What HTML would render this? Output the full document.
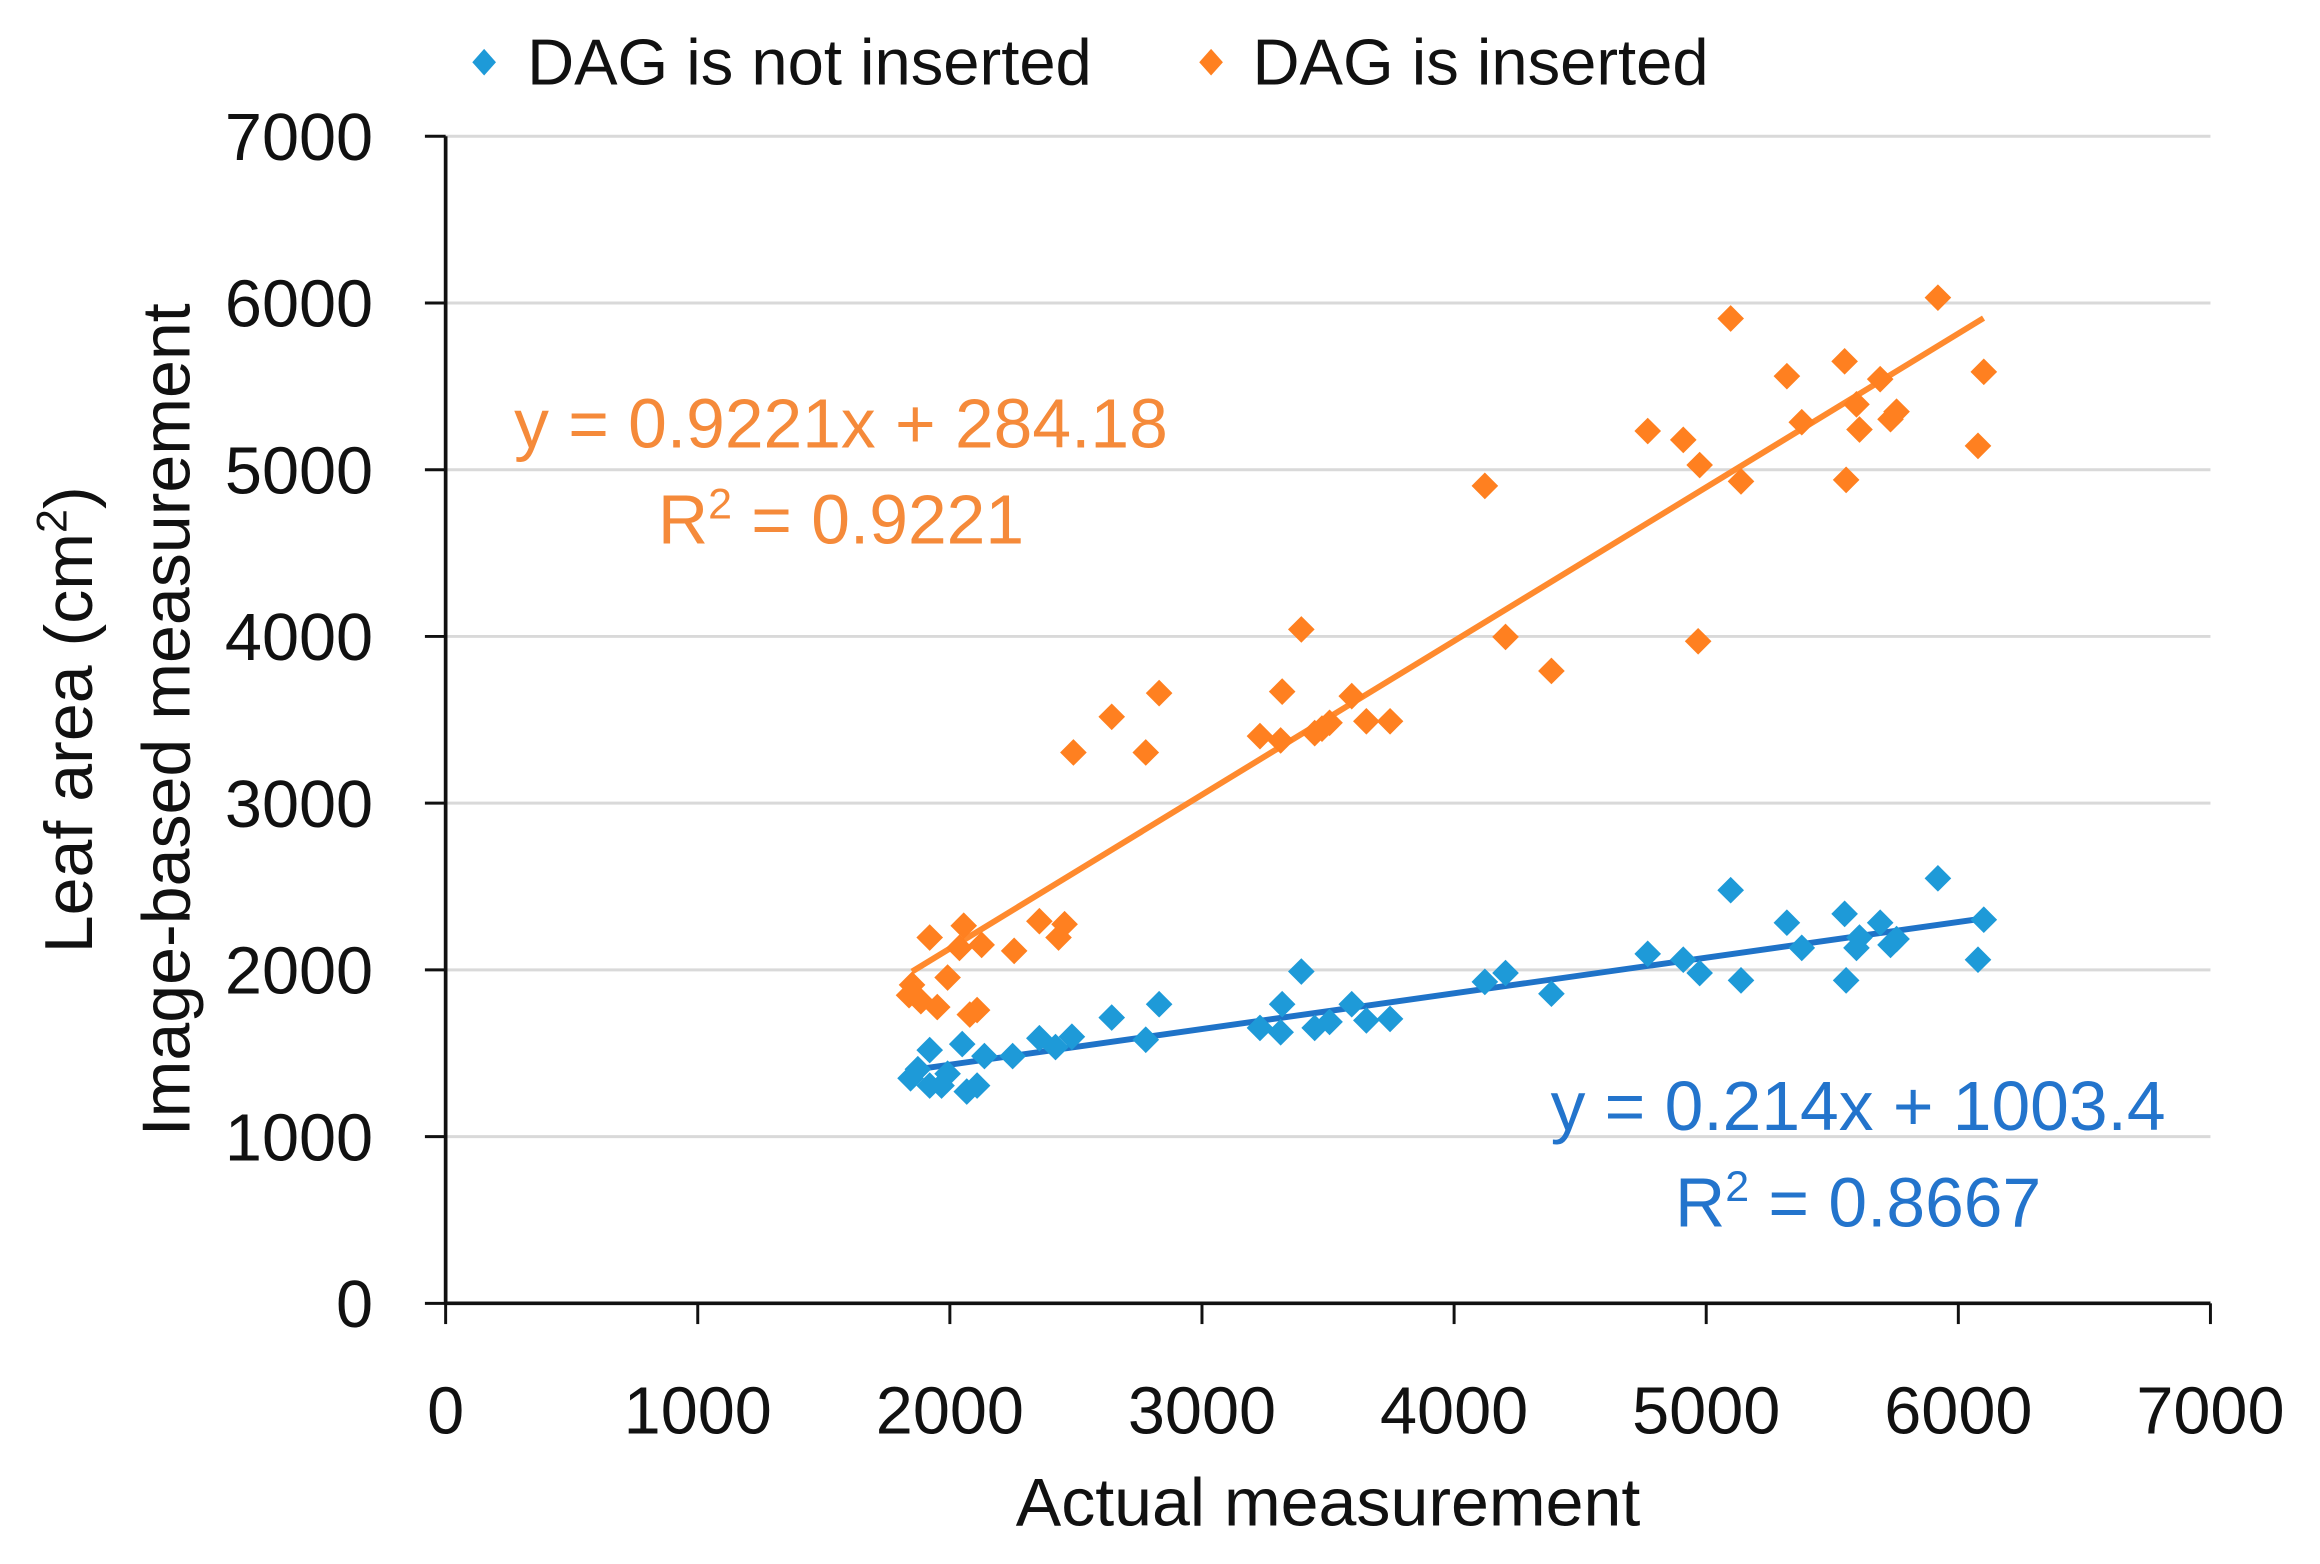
<!DOCTYPE html>
<html><head><meta charset="utf-8"><style>
html,body{margin:0;padding:0;background:#fff;}
svg{display:block;font-family:"Liberation Sans","DejaVu Sans",sans-serif;}
</style></head><body>
<svg id="chart" width="2320" height="1564" viewBox="0 0 1567 1056" preserveAspectRatio="none" xmlns="http://www.w3.org/2000/svg">
<rect width="1567" height="1056" fill="#fff"/>
<g id="grid"></g>
<g id="axes"></g>
<g id="lines"></g>
<g id="marks"></g>
<g>
<path d="M327 33 l8 9 l-8 9 l-8 -9z" fill="#1e9ad8"/>
<text x="356" y="57" font-size="44" fill="#111">DAG is not inserted</text>
<path d="M818 33 l8 9 l-8 9 l-8 -9z" fill="#ff8020"/>
<text x="846" y="57" font-size="44" fill="#111">DAG is inserted</text>
</g>
<text x="897" y="1030" font-size="46" text-anchor="middle" fill="#111">Actual measurement</text>
<text transform="translate(62,486) rotate(-90)" font-size="46" text-anchor="middle" fill="#111">Leaf area (cm<tspan font-size="29" dy="-17">2</tspan><tspan dy="17">)</tspan></text>
<text transform="translate(128,486) rotate(-90)" font-size="46" text-anchor="middle" fill="#111">Image-based measurement</text>
<text x="568" y="302" font-size="47" text-anchor="middle" fill="#f58a3a">y = 0.9221x + 284.18</text>
<text x="568" y="367" font-size="47" text-anchor="middle" fill="#f58a3a">R<tspan font-size="29" dy="-17">2</tspan><tspan dy="17"> = 0.9221</tspan></text>
<text x="1255" y="763" font-size="47" text-anchor="middle" fill="#2374cc">y = 0.214x + 1003.4</text>
<text x="1255" y="828" font-size="47" text-anchor="middle" fill="#2374cc">R<tspan font-size="29" dy="-17">2</tspan><tspan dy="17"> = 0.8667</tspan></text>
</svg>
<script>
const xTicks=[0,1000,2000,3000,4000,5000,6000,7000];
const yTicks=[0,1000,2000,3000,4000,5000,6000,7000];
const insX=[1850,1838,1920,1885,1950,1991,2038,2055,2079,2108,2126,2255,2355,2431,2455,2490,2642,2777,2830,3230,3312,3318,3394,3447,3476,3506,3594,3652,3746,4122,4204,4386,4768,4909,4974,4968,5097,5138,5320,5379,5549,5555,5596,5608,5690,5731,5755,5919,6078,6101];
const insY=[1910,1848,2194,1812,1777,1954,2132,2265,1732,1759,2150,2114,2292,2194,2274,3304,3518,3304,3660,3402,3376,3669,4042,3420,3447,3482,3642,3491,3491,4903,3997,3793,5232,5179,5028,3971,5907,4930,5561,5285,5650,4939,5392,5241,5543,5303,5348,6032,5143,5587];
const notX=[1844,1873,1920,1920,1967,1991,2049,2067,2108,2137,2249,2355,2419,2484,2642,2777,2830,3230,3312,3318,3394,3447,3506,3594,3652,3746,4122,4204,4386,4768,4909,4974,5097,5138,5320,5379,5549,5555,5596,5608,5690,5731,5755,5919,6078,6101];
const notY=[1350,1404,1519,1306,1306,1377,1555,1270,1306,1483,1483,1590,1537,1599,1714,1581,1794,1652,1626,1794,1990,1652,1688,1794,1697,1706,1928,1981,1857,2096,2061,1981,2478,1937,2283,2132,2336,1937,2132,2194,2283,2150,2185,2549,2061,2301];
const insFit=[0.9221,284.18];
const notFit=[0.214,1003.4];
const fitRange=[1850,6100];

const X0=301,X1=1493,Y0=880,Y1=92,MAX=7000;
const sx=v=>X0+(X1-X0)*v/MAX;
const sy=v=>Y0-(Y0-Y1)*v/MAX;
const NS="http://www.w3.org/2000/svg";
function mk(tag,attrs,parent){const e=document.createElementNS(NS,tag);for(const k in attrs)e.setAttribute(k,attrs[k]);parent.appendChild(e);return e;}
const grid=document.getElementById('grid'),axes=document.getElementById('axes'),lines=document.getElementById('lines'),marks=document.getElementById('marks');
yTicks.forEach(t=>{
  if(t>0){const g=mk('line',{x1:X0,x2:X1,y1:sy(t),y2:sy(t),stroke:'#d9d9d9','stroke-width':2},grid);
  
  }
  const tk=mk('line',{x1:X0-14,x2:X0,y1:sy(t),y2:sy(t),stroke:'#111','stroke-width':2},axes);
  
  
  const lb=mk('text',{x:252,y:sy(t)+16,'font-size':45,'text-anchor':'end',fill:'#111'},axes);
  lb.textContent=t;
  
  
});
xTicks.forEach(t=>{
  const tk=mk('line',{x1:sx(t),x2:sx(t),y1:Y0,y2:Y0+14,stroke:'#111','stroke-width':2},axes);
  
  
  const lb=mk('text',{x:sx(t),y:968,'font-size':45,'text-anchor':'middle',fill:'#111'},axes);
  lb.textContent=t;
  
  
});
const ya=mk('line',{x1:X0,x2:X0,y1:Y1,y2:Y0+1,stroke:'#111','stroke-width':2.5},axes);


const xa=mk('line',{x1:X0-1,x2:X1,y1:Y0,y2:Y0,stroke:'#111','stroke-width':2.5},axes);



function trend(fit,color,name){
  const l=mk('line',{x1:sx(fitRange[0]),y1:sy(fit[0]*fitRange[0]+fit[1]),x2:sx(fitRange[1]),y2:sy(fit[0]*fitRange[1]+fit[1]),stroke:color,'stroke-width':4},lines);
  
  
}
function pts(xs,ys,color,name){
  xs.forEach((x,i)=>{
    const cx=sx(x),cy=sy(ys[i]);
    const p=mk('path',{d:`M${cx} ${cy-9} L${cx+9} ${cy} L${cx} ${cy+9} L${cx-9} ${cy} Z`,fill:color},marks);
    
    
  });
}
pts(notX,notY,'#1e9ad8','point-not-inserted');
pts(insX,insY,'#ff8020','point-inserted');
trend(notFit,'#1f73c8','trendline-not-inserted');
trend(insFit,'#ff8a2e','trendline-inserted');
</script>
</body></html>
